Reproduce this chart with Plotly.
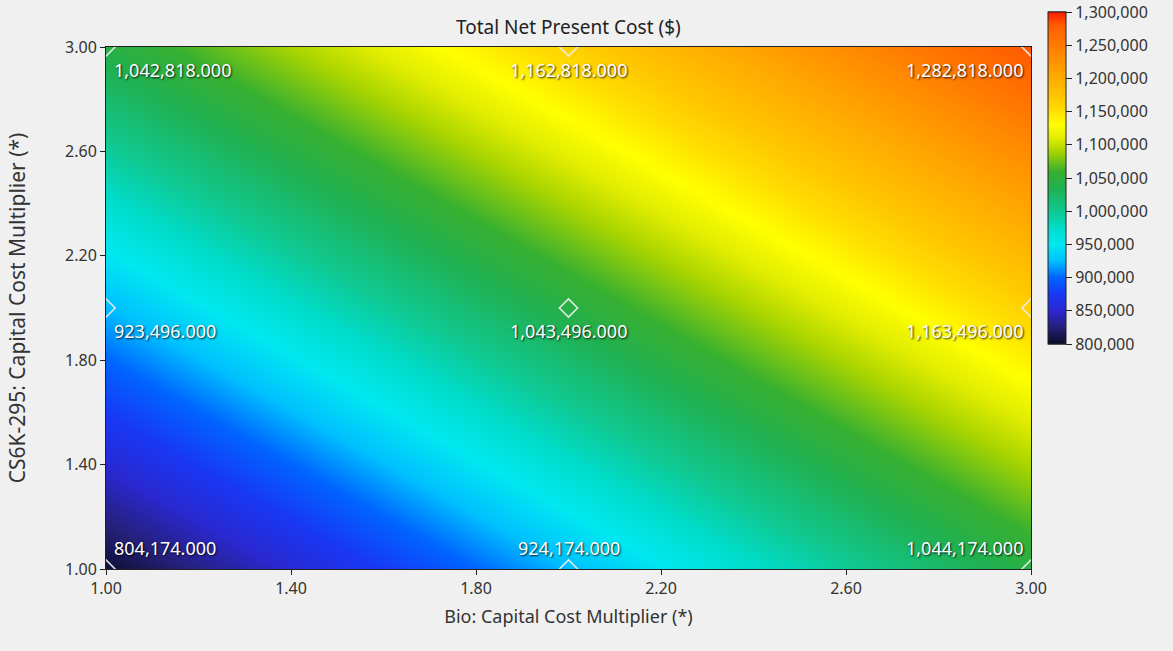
import plotly.graph_objects as go

# Sensitivity grid: Bio capital cost multiplier (x) vs CS6K-295 capital cost multiplier (y)
bio_mult = [1.0, 2.0, 3.0]
cs6k_mult = [1.0, 2.0, 3.0]
# rows follow cs6k_mult, columns follow bio_mult
total_npc = [
    [804174.0, 924174.0, 1044174.0],
    [923496.0, 1043496.0, 1163496.0],
    [1042818.0, 1162818.0, 1282818.0],
]
x_ticks = [1.0, 1.4, 1.8, 2.2, 2.6, 3.0]
y_ticks = [1.0, 1.4, 1.8, 2.2, 2.6, 3.0]
cbar_ticks = [800000, 850000, 900000, 950000, 1000000, 1050000,
              1100000, 1150000, 1200000, 1250000, 1300000]

ZMIN, ZMAX = 800000, 1300000

# page geometry (pixels)
W, H = 1173, 651
PL, PR, PT, PB = 106, 1031, 47, 569
CB_X0, CB_THICK, CB_TOP, CB_BOT = 1048, 18, 12, 344

pw, ph = PR - PL, PB - PT


def px_x(p):
    return (p - PL) / pw


def px_y(p):
    return (PB - p) / ph


FONT = "Noto Sans"
BG = "#f0f0f0"

colorscale = [
    [0.00, "#0b0b26"],
    [0.05, "#25207a"],
    [0.10, "#2a28d0"],
    [0.15, "#1838f4"],
    [0.20, "#0064ff"],
    [0.25, "#00c0ff"],
    [0.30, "#00e8f0"],
    [0.35, "#00dcc8"],
    [0.40, "#10c890"],
    [0.47, "#20b050"],
    [0.52, "#38b030"],
    [0.58, "#a8d400"],
    [0.62, "#e0ec00"],
    [0.66, "#ffff00"],
    [0.70, "#ffe000"],
    [0.74, "#ffc800"],
    [0.80, "#ffac00"],
    [0.87, "#ff8a00"],
    [0.96, "#ff5c00"],
    [1.00, "#ff1a00"],
]

fig = go.Figure()

fig.add_trace(go.Heatmap(
    x=bio_mult, y=cs6k_mult, z=total_npc,
    zmin=ZMIN, zmax=ZMAX, zsmooth="best",
    colorscale=colorscale,
    hoverinfo="skip",
    colorbar=dict(
        x=px_x(CB_X0), xanchor="left", xpad=0,
        y=px_y(CB_TOP), yanchor="top", ypad=0,
        lenmode="pixels", len=CB_BOT - CB_TOP,
        thickness=CB_THICK, thicknessmode="pixels",
        outlinewidth=1, outlinecolor="#222",
        tickvals=cbar_ticks, tickformat=",d",
        ticks="outside", ticklen=6, tickcolor="#222", tickwidth=1,
        tickfont=dict(family=FONT, size=16, color="#333"),
    ),
))

# sample points as open diamonds
px_pts, py_pts = [], []
for j, yv in enumerate(cs6k_mult):
    for i, xv in enumerate(bio_mult):
        px_pts.append(xv)
        py_pts.append(yv)

fig.add_trace(go.Scatter(
    x=px_pts, y=py_pts, mode="markers", cliponaxis=True,
    marker=dict(symbol="diamond-open", size=14,
                color="rgba(236,236,236,0.95)", line=dict(width=1.6)),
    hoverinfo="skip", showlegend=False,
))

# value labels next to each sample point
annotations = []
for j, yv in enumerate(cs6k_mult):
    for i, xv in enumerate(bio_mult):
        if i == 0:
            xanchor, xshift = "left", 6
        elif i == len(bio_mult) - 1:
            xanchor, xshift = "right", -6
        else:
            xanchor, xshift = "center", 0
        yshift = 21 if j == 0 else -23
        annotations.append(dict(
            x=xv, y=yv, xref="x", yref="y",
            text=f"{total_npc[j][i]:,.3f}",
            showarrow=False, xanchor=xanchor, yanchor="middle",
            xshift=xshift, yshift=yshift,
            font=dict(family=FONT, size=18, color="#ffffff",
                      shadow="1px 1px 2px rgba(0,0,0,0.85)"),
        ))

# chart title over the plot area
annotations.append(dict(
    x=0.5, y=px_y(27), xref="paper", yref="paper",
    text="Total Net Present Cost ($)", showarrow=False,
    xanchor="center", yanchor="middle",
    font=dict(family=FONT, size=19, color="#222"),
))

# cross lines through the colour bar at each tick
shapes = []
for v in cbar_ticks:
    frac = (v - ZMIN) / (ZMAX - ZMIN)
    ypix = CB_BOT - frac * (CB_BOT - CB_TOP)
    shapes.append(dict(
        type="line", xref="paper", yref="paper",
        x0=px_x(CB_X0), x1=px_x(CB_X0 + CB_THICK),
        y0=px_y(ypix), y1=px_y(ypix),
        line=dict(color="#222", width=1),
    ))

axis_common = dict(
    showgrid=False, zeroline=False,
    showline=True, mirror=True, linecolor="#222", linewidth=1,
    ticks="outside", ticklen=5, tickcolor="#222",
    tickformat=".2f",
    tickfont=dict(family=FONT, size=16, color="#333"),
)

fig.update_layout(
    width=W, height=H,
    margin=dict(l=PL, r=W - PR, t=PT, b=H - PB),
    paper_bgcolor=BG, plot_bgcolor=BG,
    showlegend=False,
    xaxis=dict(range=[1, 3], tickvals=x_ticks,
               title=dict(text="Bio: Capital Cost Multiplier (*)", standoff=12,
                          font=dict(family=FONT, size=18, color="#333")),
               **axis_common),
    yaxis=dict(range=[1, 3], tickvals=y_ticks,
               title=dict(text="CS6K-295: Capital Cost Multiplier (*)", standoff=33,
                          font=dict(family=FONT, size=21, color="#333")),
               **axis_common),
    annotations=annotations,
    shapes=shapes,
)

fig.write_html("out.html")
